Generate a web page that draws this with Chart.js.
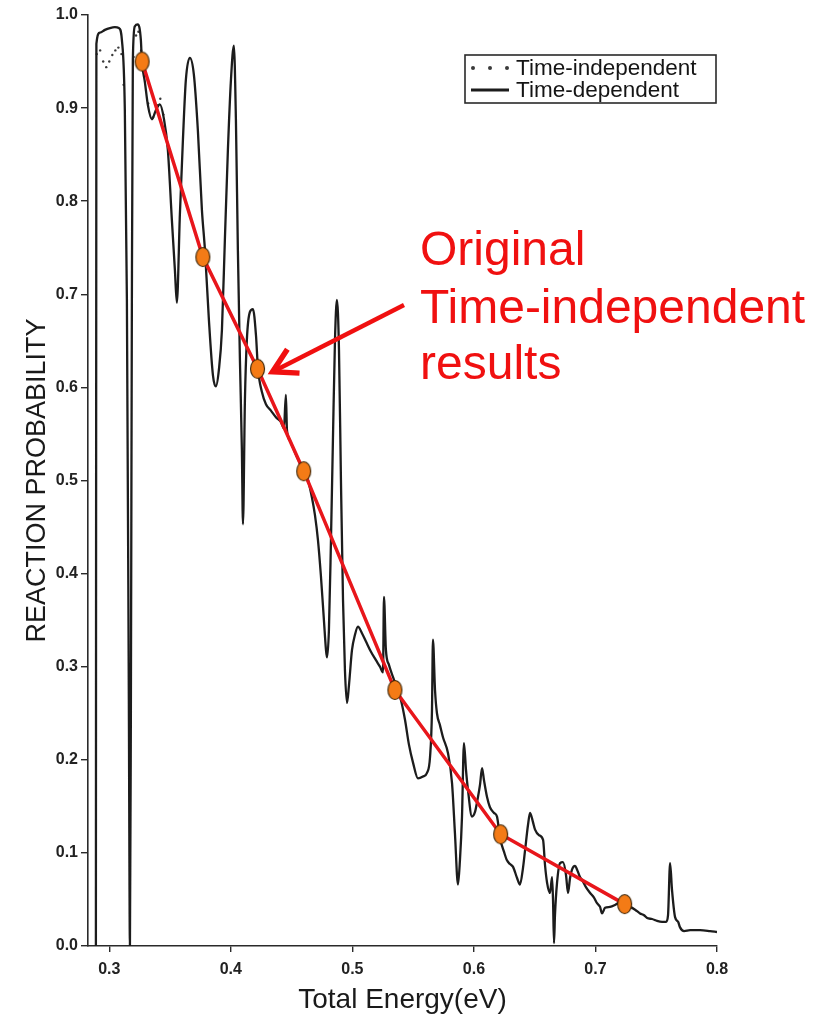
<!DOCTYPE html>
<html>
<head>
<meta charset="utf-8">
<script src="https://cdn.jsdelivr.net/npm/chart.js@4/dist/chart.umd.min.js"></script>
<style>
  html, body { margin: 0; padding: 0; background: #ffffff; }
  #wrap { width: 818px; height: 1019px; position: relative; }
</style>
</head>
<body>
<div id="wrap"><canvas id="chart"></canvas></div>
<script>
// Total energy (eV) of the time-dependent reaction probability curve
const energyTD = [
  0.2890, 0.2894, 0.2923, 0.2964, 0.3005, 0.3046, 0.3079, 0.3104, 0.3128, 0.3145,
  0.3161, 0.3170, 0.3178, 0.3186, 0.3194, 0.3211, 0.3235, 0.3260, 0.3268, 0.3293,
  0.3318, 0.3351, 0.3384, 0.3416, 0.3449, 0.3482, 0.3515, 0.3540, 0.3556, 0.3581,
  0.3606, 0.3630, 0.3663, 0.3696, 0.3729, 0.3762, 0.3787, 0.3820, 0.3853, 0.3877,
  0.3902, 0.3927, 0.3951, 0.3976, 0.4001, 0.4025, 0.4042, 0.4058, 0.4075, 0.4091,
  0.4100, 0.4116, 0.4132, 0.4157, 0.4182, 0.4207, 0.4223, 0.4256, 0.4289, 0.4330,
  0.4371, 0.4412, 0.4437, 0.4453, 0.4462, 0.4486, 0.4519, 0.4560, 0.4602, 0.4634,
  0.4667, 0.4692, 0.4717, 0.4741, 0.4766, 0.4783, 0.4791, 0.4807, 0.4824, 0.4840,
  0.4857, 0.4873, 0.4890, 0.4906, 0.4923, 0.4939, 0.4956, 0.4972, 0.4997, 0.5021,
  0.5046, 0.5079, 0.5112, 0.5153, 0.5194, 0.5227, 0.5252, 0.5260, 0.5276, 0.5301,
  0.5334, 0.5367, 0.5400, 0.5433, 0.5466, 0.5499, 0.5540, 0.5581, 0.5614, 0.5639,
  0.5655, 0.5663, 0.5680, 0.5696, 0.5721, 0.5746, 0.5787, 0.5820, 0.5844, 0.5869,
  0.5885, 0.5902, 0.5918, 0.5935, 0.5951, 0.5984, 0.6009, 0.6025, 0.6050, 0.6067,
  0.6083, 0.6108, 0.6132, 0.6165, 0.6190, 0.6215, 0.6248, 0.6272, 0.6297, 0.6322,
  0.6355, 0.6379, 0.6404, 0.6421, 0.6445, 0.6462, 0.6486, 0.6503, 0.6536, 0.6569,
  0.6585, 0.6602, 0.6626, 0.6643, 0.6651, 0.6659, 0.6667, 0.6684, 0.6709, 0.6733,
  0.6758, 0.6774, 0.6791, 0.6807, 0.6832, 0.6849, 0.6873, 0.6890, 0.6923, 0.6956,
  0.6988, 0.7013, 0.7038, 0.7054, 0.7079, 0.7120, 0.7161, 0.7203, 0.7244, 0.7285,
  0.7326, 0.7367, 0.7400, 0.7425, 0.7466, 0.7507, 0.7548, 0.7581, 0.7597, 0.7614,
  0.7630, 0.7655, 0.7680, 0.7696, 0.7729, 0.7779, 0.7861, 0.7943, 0.8000
];

// Reaction probability, time-dependent calculation
const probTD = [
  0.000, 0.969, 0.981, 0.984, 0.986, 0.987, 0.986, 0.973, 0.898, 0.694,
  0.264, 0.000, 0.264, 0.694, 0.952, 0.988, 0.990, 0.973, 0.951, 0.928,
  0.903, 0.888, 0.898, 0.904, 0.889, 0.855, 0.780, 0.726, 0.691, 0.786,
  0.866, 0.930, 0.954, 0.936, 0.876, 0.791, 0.748, 0.672, 0.613, 0.601,
  0.619, 0.662, 0.758, 0.855, 0.930, 0.967, 0.887, 0.748, 0.629, 0.533,
  0.453, 0.586, 0.651, 0.681, 0.684, 0.656, 0.621, 0.595, 0.582, 0.575,
  0.568, 0.563, 0.556, 0.592, 0.554, 0.543, 0.533, 0.521, 0.511, 0.501,
  0.482, 0.463, 0.436, 0.398, 0.350, 0.318, 0.310, 0.339, 0.436, 0.543,
  0.651, 0.694, 0.640, 0.501, 0.372, 0.296, 0.261, 0.280, 0.318, 0.334,
  0.343, 0.336, 0.327, 0.316, 0.307, 0.300, 0.294, 0.375, 0.318, 0.302,
  0.289, 0.277, 0.264, 0.243, 0.216, 0.197, 0.180, 0.182, 0.186, 0.203,
  0.253, 0.329, 0.275, 0.250, 0.237, 0.224, 0.207, 0.175, 0.121, 0.066,
  0.092, 0.139, 0.218, 0.189, 0.168, 0.139, 0.144, 0.154, 0.173, 0.191,
  0.178, 0.160, 0.149, 0.143, 0.139, 0.116, 0.101, 0.092, 0.088, 0.085,
  0.073, 0.066, 0.084, 0.103, 0.130, 0.143, 0.133, 0.125, 0.119, 0.114,
  0.087, 0.068, 0.057, 0.074, 0.049, 0.003, 0.033, 0.068, 0.089, 0.090,
  0.076, 0.057, 0.073, 0.082, 0.086, 0.082, 0.074, 0.071, 0.063, 0.057,
  0.052, 0.046, 0.042, 0.035, 0.041, 0.042, 0.044, 0.047, 0.044, 0.042,
  0.039, 0.035, 0.033, 0.030, 0.029, 0.027, 0.026, 0.026, 0.033, 0.089,
  0.060, 0.031, 0.026, 0.020, 0.016, 0.017, 0.017, 0.016, 0.015
];

// Time-independent calculation (dotted), where it separates from the solid curve
const energyTI = [0.2897, 0.2925, 0.2950, 0.2975, 0.3000, 0.3025, 0.3050, 0.3075, 0.3100, 0.3118,
                  0.3200, 0.3220, 0.3240, 0.3262, 0.3290, 0.3320, 0.3360, 0.3395, 0.3420, 0.3445];
const probTI   = [0.958, 0.962, 0.950, 0.944, 0.950, 0.957, 0.962, 0.965, 0.958, 0.925,
                  0.955, 0.978, 0.982, 0.962, 0.935, 0.905, 0.890, 0.903, 0.910, 0.893];

// Original time-independent results (red line with markers)
const energyOrig = [0.327, 0.377, 0.422, 0.460, 0.535, 0.622, 0.724];
const probOrig   = [0.95, 0.74, 0.62, 0.51, 0.275, 0.12, 0.045];

// Axis ticks
const xTicks = [0.3, 0.4, 0.5, 0.6, 0.7, 0.8];
const yTicks = [0.0, 0.1, 0.2, 0.3, 0.4, 0.5, 0.6, 0.7, 0.8, 0.9, 1.0];

const toPoints = (xs, ys) => xs.map((x, i) => ({ x: x, y: ys[i] }));

const FONT = "'Liberation Sans', Arial, Helvetica, sans-serif";
const INK = '#1c1c1c';
const RED = '#f01010';

// Orange oval marker
const marker = (() => {
  const c = document.createElement('canvas');
  c.width = 17; c.height = 22;
  const g = c.getContext('2d');
  g.beginPath();
  g.ellipse(8.5, 11, 7, 9.5, 0, 0, Math.PI * 2);
  g.fillStyle = '#f47b16';
  g.fill();
  g.lineWidth = 1.1;
  g.strokeStyle = '#3b2508';
  g.stroke();
  return c;
})();

// Boxed legend in the upper right of the plot
const legendBox = {
  id: 'legendBox',
  afterDatasetsDraw(chart) {
    const ctx = chart.ctx;
    const dsTI = chart.data.datasets[2];
    const dsTD = chart.data.datasets[1];
    ctx.save();
    const L = 465, T = 55, R = 716, B = 103;
    ctx.fillStyle = '#ffffff';
    ctx.fillRect(L, T, R - L, B - T);
    ctx.strokeStyle = '#2a2a2a';
    ctx.lineWidth = 1.6;
    ctx.strokeRect(L, T, R - L, B - T);
    // dotted sample
    ctx.fillStyle = dsTI.pointBackgroundColor;
    [473, 490, 507].forEach(x => {
      ctx.beginPath();
      ctx.arc(x, 68, 2, 0, Math.PI * 2);
      ctx.fill();
    });
    // solid sample
    ctx.strokeStyle = dsTD.borderColor;
    ctx.lineWidth = 3;
    ctx.beginPath();
    ctx.moveTo(471, 90);
    ctx.lineTo(509, 90);
    ctx.stroke();
    ctx.fillStyle = '#151515';
    ctx.font = '22.5px ' + FONT;
    ctx.textBaseline = 'middle';
    ctx.textAlign = 'left';
    ctx.fillText(dsTI.label, 516, 69);
    ctx.fillText(dsTD.label, 516, 91);
    ctx.restore();
  }
};

// Red note with an arrow to the third original point
const note = {
  id: 'note',
  afterDraw(chart) {
    const ctx = chart.ctx;
    const xs = chart.scales.x, ys = chart.scales.y;
    ctx.save();
    ctx.fillStyle = RED;
    ctx.font = '48px ' + FONT;
    ctx.textAlign = 'left';
    ctx.textBaseline = 'alphabetic';
    ctx.fillText('Original', 420, 265);
    ctx.fillText('Time-independent', 420, 323);
    ctx.fillText('results', 420, 379);

    const tipX = xs.getPixelForValue(energyOrig[2]) + 15;
    const tipY = ys.getPixelForValue(probOrig[2]) + 3;
    const tailX = 404, tailY = 305;
    const ang = Math.atan2(tipY - tailY, tipX - tailX);
    ctx.strokeStyle = RED;
    ctx.lineWidth = 4.5;
    ctx.lineCap = 'butt';
    ctx.beginPath();
    ctx.moveTo(tailX, tailY);
    ctx.lineTo(tipX - 4 * Math.cos(ang), tipY - 4 * Math.sin(ang));
    ctx.stroke();
    const head = 27, spread = 0.52;
    ctx.lineWidth = 5.5;
    ctx.lineJoin = 'miter';
    ctx.beginPath();
    ctx.moveTo(tipX - head * Math.cos(ang - spread), tipY - head * Math.sin(ang - spread));
    ctx.lineTo(tipX, tipY);
    ctx.lineTo(tipX - head * Math.cos(ang + spread), tipY - head * Math.sin(ang + spread));
    ctx.stroke();
    ctx.restore();
  }
};

new Chart(document.getElementById('chart'), {
  type: 'line',
  data: {
    datasets: [
      {
        label: 'Original time-independent results',
        data: toPoints(energyOrig, probOrig),
        borderColor: '#e8161b',
        borderWidth: 3.5,
        tension: 0,
        pointStyle: marker,
        pointRadius: 9,
        order: 0
      },
      {
        label: 'Time-dependent',
        data: toPoints(energyTD, probTD),
        borderColor: INK,
        borderWidth: 2.3,
        cubicInterpolationMode: 'monotone',
        pointRadius: 0,
        order: 1
      },
      {
        label: 'Time-independent',
        data: toPoints(energyTI, probTI),
        showLine: false,
        pointRadius: 1.2,
        pointBackgroundColor: '#3a3a3a',
        pointBorderWidth: 0,
        order: 2
      }
    ]
  },
  options: {
    responsive: true,
    maintainAspectRatio: false,
    animation: false,
    devicePixelRatio: 1,
    layout: { padding: { left: 0, top: 15, right: 101, bottom: 0 } },
    plugins: {
      legend: { display: false },
      tooltip: { enabled: false }
    },
    scales: {
      x: {
        type: 'linear',
        min: 0.2825,
        max: 0.8,
        afterFit: s => { s.height = 73; },
        afterBuildTicks: s => { s.ticks = xTicks.map(v => ({ value: v })); },
        border: { display: true, color: '#2a2a2a', width: 1.6 },
        grid: { drawOnChartArea: false, drawTicks: true, tickLength: 6, color: '#2a2a2a', lineWidth: 1.4 },
        ticks: {
          autoSkip: false, maxRotation: 0, padding: 8,
          color: '#222', font: { family: FONT, size: 16, weight: 'bold' },
          callback: v => Number(v).toFixed(1)
        },
        title: {
          display: true, text: 'Total Energy(eV)', color: '#1a1a1a',
          font: { family: FONT, size: 28 }, padding: { top: 0, bottom: 2 }
        }
      },
      y: {
        type: 'linear',
        min: 0,
        max: 1,
        afterFit: s => { s.width = 88; },
        afterBuildTicks: s => { s.ticks = yTicks.map(v => ({ value: v })); },
        border: { display: true, color: '#2a2a2a', width: 1.6 },
        grid: { drawOnChartArea: false, drawTicks: true, tickLength: 7, color: '#2a2a2a', lineWidth: 1.4 },
        ticks: {
          autoSkip: false, padding: 3,
          color: '#222', font: { family: FONT, size: 16, weight: 'bold' },
          callback: v => Number(v).toFixed(1)
        },
        title: {
          display: true, text: 'REACTION PROBABILITY', color: '#1a1a1a',
          font: { family: FONT, size: 27 }, padding: { top: 21, bottom: 0 }
        }
      }
    }
  },
  plugins: [legendBox, note]
});
</script>
</body>
</html>
